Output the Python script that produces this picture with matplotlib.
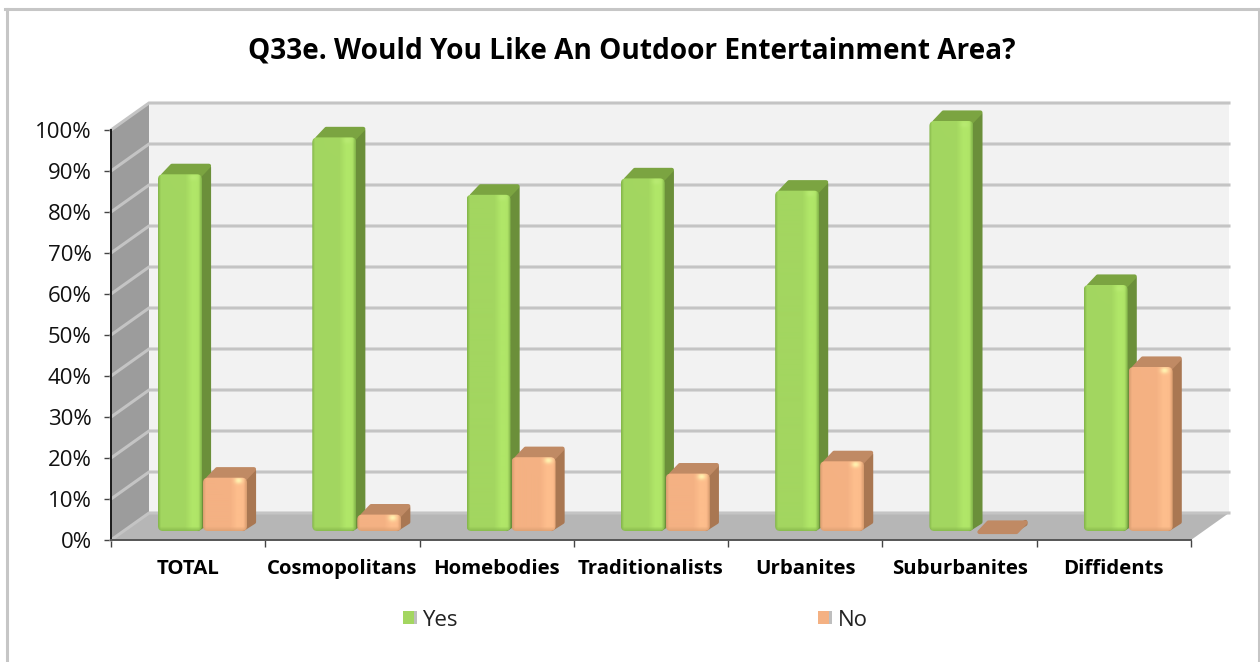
import numpy as np
import matplotlib
matplotlib.use("Agg")
import matplotlib.pyplot as plt
from matplotlib.patches import FancyBboxPatch, Polygon, Rectangle
from matplotlib.lines import Line2D
from matplotlib.colors import to_rgb

categories = ["TOTAL", "Cosmopolitans", "Homebodies", "Traditionalists",
              "Urbanites", "Suburbanites", "Diffidents"]
yes_values = [87, 96, 82, 86, 83, 100, 60]
no_values = [13, 4, 18, 14, 17, 0, 40]
y_ticks = list(range(0, 101, 10))
y_labels = [f"{v}%" for v in y_ticks]
title = "Q33e. Would You Like An Outdoor Entertainment Area?"

W, H = 1260, 662
LEFT, RIGHT, TOP, BOTTOM = 111, 1191, 130, 540
FONT = ["Open Sans", "DejaVu Sans"]

fig = plt.figure(figsize=(W / 100, H / 100), dpi=100, facecolor="white")
ax = fig.add_axes([LEFT / W, 1 - BOTTOM / H, (RIGHT - LEFT) / W, (BOTTOM - TOP) / H])
ax.set_xlim(0, len(categories))
ax.set_ylim(0, 100)
ax.patch.set_visible(False)

px = len(categories) / (RIGHT - LEFT)   # data units per pixel, x
py = 100 / (BOTTOM - TOP)               # data units per pixel, y
DX, DY = 38 * px, 27 * py               # depth of the chart box

# figure border: left, top and right only
for xs, ys in [((6.5, 6.5), (662, 8.5)), ((5, 1260), (8.5, 8.5)), ((1259, 1259), (8.5, 662))]:
    fig.add_artist(Line2D([x / W for x in xs], [1 - y / H for y in ys],
                          transform=fig.transFigure, color="#c6c6c6", lw=2.2))

# back wall, side wall, floor
ax.add_patch(Polygon([(DX, DY), (7 + DX, DY), (7 + DX, 100 + DY), (DX, 100 + DY)],
                     fc="#f2f2f2", ec="none", zorder=1, clip_on=False))
ax.add_patch(Polygon([(0, 0), (DX, DY), (DX, 100 + DY), (0, 100)],
                     fc="#9c9c9c", ec="none", zorder=1, clip_on=False))
ax.add_patch(Polygon([(0, 0), (7, 0), (7 + DX, DY), (DX, DY)],
                     fc="#b6b6b6", ec="none", zorder=1, clip_on=False))
# gridlines
for v in y_ticks:
    ax.plot([0, DX, 7 + DX], [v, v + DY, v + DY],
            color="#c4c4c4", lw=2.2, zorder=2, clip_on=False, solid_joinstyle="miter")

GREEN = dict(mid="#a3d660", light="#b0e668", dark="#86b84c", side="#6b8f3a", top="#7ba441", spec="#b8ea72")
ORANGE = dict(mid="#f4b183", light="#fdbd8c", dark="#dca072", side="#a97752", top="#c08a64", spec="#fff2b0")

BAR_W = 44 * px
BASE = 9 * py         # height of a bar's foot above the front edge
SD_X, SD_Y = 10 * px, 10 * py
R = 3 * px            # inset matched to the round line join of the side faces


def face_image(value, style):
    """Shaded front face, one cell per pixel."""
    h, w = max(int(round(value / py)), 2), 44
    mid, light, dark = (np.array(to_rgb(style[k])) for k in ("mid", "light", "dark"))
    spec = np.array(to_rgb(style["spec"]))
    xf = np.linspace(0, 1, w)
    band = np.interp(xf, [0.62, 0.78, 0.9, 1.0], [0, 1, 1, 0])[:, None]
    row = mid + band * (light - mid)
    edge = np.interp(xf, [0, 0.06, 0.94, 1.0], [1, 0, 0, 1])[:, None]
    row = row + edge * (dark - row)
    img = np.repeat(row[None, :, :], h, axis=0)
    yf = np.arange(h, dtype=float)
    foot = np.clip((yf - (h - 5)) / 5, 0, 1)[:, None, None]
    img = img + foot * (dark - img)
    yy, xx = np.mgrid[0:h, 0:w]
    glow = np.exp(-(((xx - 0.8 * w) / 4.0) ** 2 + ((yy - 3.0) / 3.0) ** 2))[:, :, None]
    img = img + glow * (spec - img)
    return np.clip(img, 0, 1)


def draw_bar(x, value, style, z):
    top = BASE + value
    for pts, col in [
        ([(x + BAR_W - 4 * px, BASE + 2 * py), (x + BAR_W + SD_X - R, BASE + SD_Y - 1 * py),
          (x + BAR_W + SD_X - R, top + SD_Y - 3 * py), (x + BAR_W - 4 * px, top)], style["side"]),
        ([(x + 5 * px, top - 1 * py), (x + SD_X + 4 * px, top + SD_Y - 1.5 * py),
          (x + BAR_W + SD_X - R, top + SD_Y - 1.5 * py), (x + BAR_W - 2 * px, top - 1 * py)], style["top"]),
    ]:
        ax.add_patch(Polygon(pts, fc=col, ec=col, lw=3, joinstyle="round", zorder=z, clip_on=False))
    if value <= 0:
        return
    radius = 5 * px if value / py > 12 else 4 * px
    face = FancyBboxPatch((x, BASE), BAR_W, value,
                          boxstyle=f"round,pad=0,rounding_size={radius}",
                          mutation_aspect=py / px, fc="none", ec="none", zorder=z + 0.2)
    ax.add_patch(face)
    im = ax.imshow(face_image(value, style), extent=(x, x + BAR_W, BASE, top),
                   aspect="auto", zorder=z + 0.1, interpolation="bilinear")
    im.set_clip_box(fig.bbox)
    im.set_clip_path(face)


OFF_YES = 47 * px      # offset of the Yes bar from the category's left edge
OFF_NO = 92 * px
for i, (yes, no) in enumerate(zip(yes_values, no_values)):
    draw_bar(i + OFF_YES, yes, GREEN, 3 + i)
    draw_bar(i + OFF_NO, no, ORANGE, 3.5 + i)

ax.set_xlim(0, len(categories))
ax.set_ylim(0, 100)

# axes and ticks
for s in ("top", "right"):
    ax.spines[s].set_visible(False)
ax.spines["left"].set_color("#1a1a1a")
ax.spines["left"].set_linewidth(1.4)
ax.spines["bottom"].set_color("#555555")
ax.spines["bottom"].set_linewidth(1.4)
ax.spines["left"].set_zorder(20)
ax.spines["bottom"].set_zorder(20)
ax.set_yticks(y_ticks, y_labels, fontsize=16, family=FONT, color="#111111")
ax.set_xticks(range(len(categories) + 1))
ax.set_xticklabels([])
ax.set_xticks(np.arange(len(categories)) + 0.5, categories, minor=True,
              fontsize=14.7, family=FONT, fontweight="bold")
ax.tick_params(axis="x", which="major", length=5, width=1, color="#444444")
ax.tick_params(axis="x", which="minor", length=0, pad=14)
ax.tick_params(axis="y", length=5, width=1, color="#444444", pad=9)

fig.text(632 / W, 1 - 51 / H, title, ha="center", va="center", fontsize=20.2,
         fontweight="bold", family=FONT, color="black")

# legend
for lx, fc, side, lab in [(403, "#a3d660", "#6b8f3a", "Yes"), (818, "#f4b183", "#ab7853", "No")]:
    fig.add_artist(Rectangle((lx / W, 1 - 624 / H), 14 / W, 13 / H, transform=fig.transFigure,
                             fc="#8a8a8a", ec="none", alpha=0.55))
    fig.add_artist(Rectangle((lx / W, 1 - 624 / H), 10.5 / W, 13 / H, transform=fig.transFigure,
                             fc=fc, ec="none"))
    fig.text((lx + 19.5) / W, 1 - 621 / H, lab, ha="left", va="center", fontsize=16,
             family=FONT, color="#222222")

fig.savefig("out.png", dpi=100)
